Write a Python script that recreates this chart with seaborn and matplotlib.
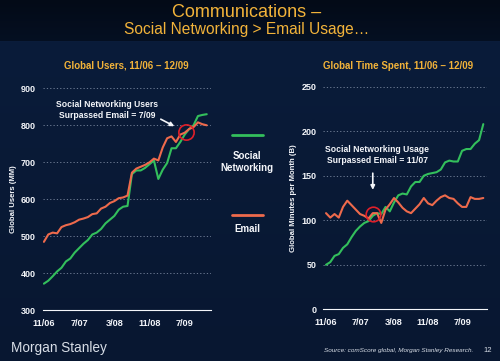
import numpy as np
import pandas as pd
import matplotlib
matplotlib.use('Agg')
import matplotlib.pyplot as plt
import seaborn as sns

# monthly data, 11/06 .. 12/09
months = pd.period_range('2006-11', '2009-12', freq='M')
tick_labels = ['11/06', '7/07', '3/08', '11/08', '7/09']

users_social = [372, 380, 392, 405, 415, 432, 440, 456, 468, 480, 490, 505, 510,
                520, 535, 545, 555, 572, 580, 582, 668, 678, 678, 685, 695, 705,
                655, 680, 698, 738, 738, 755, 775, 790, 800, 825, 828, 830]
users_email = [485, 505, 510, 508, 525, 530, 533, 538, 545, 548, 552, 560, 562,
               575, 580, 590, 595, 603, 605, 610, 672, 683, 688, 693, 700, 710,
               705, 740, 765, 770, 755, 775, 780, 790, 795, 808, 803, 800]

time_social = [50, 53, 60, 62, 69, 73, 81, 88, 93, 97, 99, 105, 108, 107, 115,
               110, 120, 128, 130, 129, 138, 143, 143, 150, 152, 153, 154, 157,
               165, 167, 166, 166, 178, 180, 180, 186, 190, 208]
time_email = [108, 103, 107, 103, 115, 122, 117, 112, 107, 105, 102, 108, 108,
              97, 112, 118, 125, 120, 114, 110, 108, 113, 118, 125, 119, 117,
              122, 126, 128, 125, 124, 119, 115, 115, 126, 124, 124, 125]

GOLD = '#f2b33a'
GREEN = '#33bf5c'
RED = '#ee6a4c'
WHITE = '#f4f6fa'

sns.set_style('dark')
plt.rcParams['font.family'] = ['Liberation Sans', 'DejaVu Sans']

fig = plt.figure(figsize=(5, 3.61), dpi=100)

# background
bg = fig.add_axes([0, 0, 1, 1])
grad = np.ones((361, 1, 3))
top = np.array([0x03, 0x0a, 0x17]) / 255
body = np.array([0x0a, 0x1c, 0x3a]) / 255
bottom = np.array([0x08, 0x17, 0x31]) / 255
for r in range(361):
    if r < 41:
        grad[r, 0] = top + (np.array([0x05, 0x10, 0x22]) / 255 - top) * r / 41
    else:
        t = (r - 41) / 320
        grad[r, 0] = body + (bottom - body) * t
bg.imshow(grad, aspect='auto', extent=[0, 1, 0, 1])
bg.set_axis_off()

fig.text(0.494, 0.99, 'Communications \u2013', ha='center', va='top',
         fontsize=13, color=GOLD)
fig.text(0.494, 0.94, 'Social Networking > Email Usage\u2026', ha='center',
         va='top', fontsize=11.2, color=GOLD)


def make_panel(rect, social, email, ylim, yticks, xlim, ylabel, title, tx):
    ax = fig.add_axes(rect)
    df = pd.DataFrame({'m': np.arange(len(months)), 'Social Networking': social,
                       'Email': email}).melt('m', var_name='series', value_name='v')
    sns.lineplot(data=df, x='m', y='v', hue='series',
                 palette={'Social Networking': GREEN, 'Email': RED},
                 linewidth=1.5, legend=False, ax=ax)
    ax.set_facecolor('none')
    ax.set_xlim(*xlim)
    ax.set_ylim(*ylim)
    ax.set_yticks(yticks)
    ax.set_yticklabels([str(v) for v in yticks], color=WHITE, fontsize=6.5,
                       fontweight='bold')
    ax.set_xticks(np.arange(len(months)))
    ax.set_xticklabels([tick_labels[i // 8] if i % 8 == 0 else ''
                        for i in range(len(months))],
                       color=WHITE, fontsize=6.6, fontweight='bold')
    ax.tick_params(axis='x', direction='in', length=2.5, width=0.6,
                   color=WHITE, pad=6)
    ax.tick_params(axis='y', length=0, pad=5)
    ax.grid(False)
    for y in yticks[1:]:
        ax.axhline(y, color='#7a88a0', lw=0.6, ls=(0, (1.5, 2.5)), zorder=0)
    for s in ['top', 'right', 'left']:
        ax.spines[s].set_visible(False)
    ax.spines['bottom'].set_color(WHITE)
    ax.spines['bottom'].set_linewidth(0.8)
    ax.set_xlabel('')
    ax.set_ylabel(ylabel, color=WHITE, fontsize=5.6, fontweight='bold',
                  labelpad=3)
    fig.text(tx, 0.818, title, ha='center', va='center', color=GOLD,
             fontsize=7, fontweight='bold')
    return ax


ax1 = make_panel([0.086, 0.1404, 0.3354, 0.615], users_social, users_email,
                 (300, 900), [300, 400, 500, 600, 700, 800, 900], (-0.2, 37.9),
                 'Global Users (MM)', 'Global Users, 11/06 \u2013 12/09', 0.253)
ax2 = make_panel([0.6466, 0.1432, 0.3268, 0.6166], time_social, time_email,
                 (0, 250), [0, 50, 100, 150, 200, 250], (-0.64, 37.8),
                 'Global Minutes per Month (B)',
                 'Global Time Spent, 11/06 \u2013 12/09', 0.797)

# annotations
ax1.text(14.4, 842, 'Social Networking Users\nSurpassed Email = 7/09',
         ha='center', va='center', color=WHITE, fontsize=6.2,
         fontweight='bold', linespacing=1.3)
ax1.annotate('', xy=(30.2, 794), xytext=(26, 820),
             arrowprops=dict(arrowstyle='-|>', color=WHITE, lw=1.2,
                             mutation_scale=6))
ax1.plot([32.2], [783], marker='o', ms=11, mfc='none', mec='#e0202a', mew=1.2)

ax2.text(12, 173, 'Social Networking Usage\nSurpassed Email = 11/07',
         ha='center', va='center', color=WHITE, fontsize=6.2,
         fontweight='bold', linespacing=1.3)
ax2.annotate('', xy=(11, 131), xytext=(11, 156),
             arrowprops=dict(arrowstyle='-|>', color=WHITE, lw=1.2,
                             mutation_scale=6))
ax2.plot([11], [107], marker='o', ms=10.5, mfc='none', mec='#e0202a', mew=1.2)

# legend between panels
fig.lines.append(plt.Line2D([0.464, 0.526], [0.626, 0.626], color=GREEN, lw=2,
                            transform=fig.transFigure))
fig.text(0.494, 0.551, 'Social\nNetworking', ha='center', va='center',
         color=WHITE, fontsize=7, fontweight='bold', linespacing=1.2)
fig.lines.append(plt.Line2D([0.464, 0.526], [0.404, 0.404], color=RED, lw=2,
                            transform=fig.transFigure))
fig.text(0.494, 0.366, 'Email', ha='center', va='center', color=WHITE,
         fontsize=7, fontweight='bold')

# footer
fig.text(0.022, 0.036, 'Morgan Stanley', ha='left', va='center',
         color='#d7dde6', fontsize=9.8)
fig.text(0.798, 0.03, 'Source: comScore global, Morgan Stanley Research.',
         ha='center', va='center', color='#d7dde6', fontsize=4.6,
         style='italic')
fig.text(0.976, 0.028, '12', ha='center', va='center', color='#d7dde6',
         fontsize=5.5)

fig.savefig('out.png', dpi=100, facecolor=fig.get_facecolor())
